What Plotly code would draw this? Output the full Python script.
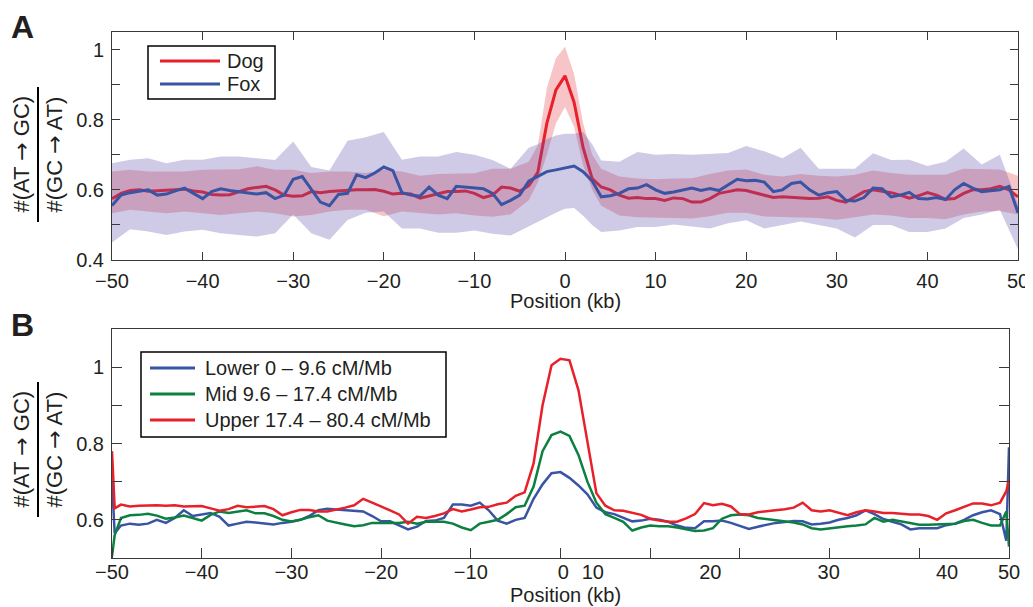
import plotly.graph_objects as go

# ---------------- Panel A data ----------------
x_a = list(range(-50, 51))
dog_a = [0.575, 0.59, 0.598, 0.6, 0.596, 0.597, 0.6, 0.6, 0.602, 0.597,
         0.594, 0.587, 0.585, 0.586, 0.595, 0.603, 0.607, 0.61, 0.6, 0.585,
         0.582, 0.583, 0.595, 0.592, 0.595, 0.597, 0.598, 0.6, 0.6, 0.601,
         0.596, 0.588, 0.59, 0.588, 0.576, 0.583, 0.59, 0.595, 0.595, 0.597,
         0.59, 0.578, 0.585, 0.608, 0.605, 0.596, 0.612, 0.65, 0.79, 0.885,
         0.925, 0.85, 0.72, 0.632, 0.608, 0.6, 0.585, 0.576, 0.578, 0.575,
         0.575, 0.57, 0.577, 0.575, 0.565, 0.565, 0.575, 0.59, 0.595, 0.6,
         0.598, 0.592, 0.585, 0.578, 0.58, 0.578, 0.576, 0.575, 0.576, 0.58,
         0.57, 0.565, 0.58, 0.595, 0.6, 0.596, 0.592, 0.585, 0.576, 0.583,
         0.592, 0.585, 0.573, 0.575, 0.59, 0.6, 0.6, 0.603, 0.61, 0.6, 0.58]
fox_a = [0.555, 0.585, 0.592, 0.595, 0.6, 0.585, 0.588, 0.597, 0.605, 0.59,
         0.575, 0.595, 0.603, 0.598, 0.594, 0.59, 0.588, 0.592, 0.575, 0.585,
         0.63, 0.638, 0.6, 0.565, 0.555, 0.587, 0.59, 0.643, 0.635, 0.648,
         0.665, 0.655, 0.592, 0.585, 0.582, 0.608, 0.585, 0.575, 0.61, 0.608,
         0.605, 0.603, 0.59, 0.558, 0.57, 0.585, 0.625, 0.638, 0.652, 0.657,
         0.662, 0.668, 0.652, 0.625, 0.58, 0.583, 0.59, 0.603, 0.605, 0.615,
         0.6, 0.59, 0.594, 0.6, 0.605, 0.598, 0.604, 0.598, 0.613, 0.63,
         0.626, 0.627, 0.622, 0.595, 0.6, 0.618, 0.622, 0.6, 0.585, 0.592,
         0.595, 0.57, 0.568, 0.578, 0.605, 0.603, 0.58, 0.585, 0.593, 0.575,
         0.574, 0.578, 0.572, 0.6, 0.618, 0.605, 0.595, 0.598, 0.6, 0.61, 0.535]

band_x = [-50, -48, -46, -44, -42, -40, -38, -36, -34, -32, -30, -28, -26, -24,
          -22, -20, -18, -16, -14, -12, -10, -8, -6, -4, -3, -2, -1, 0, 1, 2, 3,
          4, 6, 8, 10, 12, 14, 16, 18, 20, 22, 24, 26, 28, 30, 32, 34, 36, 38,
          40, 42, 44, 46, 48, 50]
fox_hi = [0.676, 0.686, 0.69, 0.676, 0.686, 0.686, 0.695, 0.695, 0.69, 0.685,
          0.738, 0.665, 0.655, 0.74, 0.75, 0.765, 0.686, 0.695, 0.695, 0.708,
          0.7, 0.685, 0.66, 0.72, 0.73, 0.745, 0.755, 0.76, 0.76, 0.765, 0.73,
          0.684, 0.68, 0.708, 0.7, 0.702, 0.7, 0.703, 0.705, 0.725, 0.71, 0.69,
          0.72, 0.66, 0.66, 0.66, 0.704, 0.685, 0.686, 0.668, 0.68, 0.718,
          0.672, 0.7, 0.56]
fox_lo = [0.45, 0.488, 0.481, 0.471, 0.481, 0.486, 0.476, 0.471, 0.467, 0.476,
          0.53, 0.476, 0.458, 0.514, 0.535, 0.538, 0.49, 0.49, 0.478, 0.478,
          0.484, 0.475, 0.47, 0.498, 0.51, 0.522, 0.535, 0.546, 0.548, 0.526,
          0.5, 0.48, 0.484, 0.494, 0.494, 0.501, 0.496, 0.49, 0.505, 0.513,
          0.49, 0.5, 0.51, 0.5, 0.49, 0.464, 0.5, 0.5, 0.48, 0.48, 0.49, 0.52,
          0.53, 0.543, 0.43]
dog_hi = [0.652, 0.657, 0.652, 0.652, 0.652, 0.657, 0.657, 0.659, 0.667, 0.657,
          0.657, 0.648, 0.652, 0.652, 0.648, 0.657, 0.652, 0.64, 0.645, 0.645,
          0.647, 0.66, 0.66, 0.68, 0.727, 0.89, 0.975, 1.008, 0.93, 0.79, 0.7,
          0.66, 0.638, 0.632, 0.63, 0.632, 0.633, 0.645, 0.655, 0.658, 0.643,
          0.638, 0.645, 0.64, 0.638, 0.643, 0.655, 0.648, 0.643, 0.643, 0.643,
          0.66, 0.66, 0.658, 0.64]
dog_lo = [0.533, 0.543, 0.538, 0.533, 0.538, 0.533, 0.528, 0.533, 0.538, 0.533,
          0.524, 0.528, 0.538, 0.543, 0.543, 0.525, 0.538, 0.535, 0.53, 0.533,
          0.527, 0.523, 0.53, 0.57, 0.622, 0.7, 0.79, 0.836, 0.78, 0.67, 0.6,
          0.555, 0.527, 0.522, 0.522, 0.52, 0.518, 0.525, 0.535, 0.535, 0.524,
          0.524, 0.522, 0.52, 0.515, 0.522, 0.53, 0.527, 0.52, 0.52, 0.516,
          0.53, 0.538, 0.54, 0.53]

# ---------------- Panel B data ----------------
x_b = [-50, -49.7] + list(range(-49, 50)) + [49.7, 50]
lower_b = [0.70, 0.565, 0.585, 0.59, 0.587, 0.59, 0.6, 0.592, 0.605, 0.625, 0.61,
           0.615, 0.618, 0.608, 0.585, 0.59, 0.595, 0.593, 0.59, 0.588, 0.592,
           0.595, 0.6, 0.61, 0.625, 0.629, 0.627, 0.625, 0.624, 0.622, 0.61,
           0.596, 0.596, 0.585, 0.575, 0.582, 0.597, 0.598, 0.605, 0.64, 0.64,
           0.637, 0.645, 0.625, 0.598, 0.59, 0.6, 0.605, 0.655, 0.693, 0.722,
           0.725, 0.71, 0.69, 0.667, 0.632, 0.62, 0.615, 0.605, 0.596, 0.598,
           0.603, 0.6, 0.595, 0.585, 0.579, 0.578, 0.596, 0.596, 0.598, 0.592,
           0.585, 0.576, 0.582, 0.588, 0.592, 0.594, 0.597, 0.596, 0.588, 0.59,
           0.593, 0.6, 0.605, 0.612, 0.625, 0.615, 0.602, 0.595, 0.588, 0.575,
           0.578, 0.578, 0.578, 0.586, 0.59, 0.6, 0.612, 0.62, 0.625, 0.615,
           0.545, 0.79]
mid_b = [0.505, 0.56, 0.605, 0.612, 0.613, 0.616, 0.611, 0.603, 0.606, 0.611,
         0.605, 0.598, 0.613, 0.622, 0.618, 0.622, 0.625, 0.617, 0.617, 0.61,
         0.6, 0.596, 0.6, 0.607, 0.612, 0.598, 0.592, 0.588, 0.583, 0.586,
         0.592, 0.592, 0.592, 0.592, 0.595, 0.59, 0.595, 0.595, 0.595, 0.59,
         0.58, 0.573, 0.59, 0.595, 0.6, 0.615, 0.633, 0.637, 0.687, 0.78,
         0.822, 0.831, 0.82, 0.77, 0.7, 0.645, 0.615, 0.605, 0.595, 0.572,
         0.58, 0.585, 0.583, 0.583, 0.58, 0.575, 0.571, 0.572, 0.578, 0.603,
         0.612, 0.614, 0.612, 0.605, 0.602, 0.598, 0.596, 0.593, 0.588, 0.578,
         0.575, 0.578, 0.58, 0.583, 0.585, 0.588, 0.605, 0.595, 0.6, 0.596,
         0.592, 0.587, 0.587, 0.588, 0.59, 0.59, 0.597, 0.6, 0.592, 0.585,
         0.585, 0.622, 0.53]
upper_b = [0.78, 0.63, 0.64, 0.635, 0.637, 0.638, 0.638, 0.637, 0.638, 0.635,
           0.635, 0.636, 0.63, 0.624, 0.628, 0.637, 0.633, 0.634, 0.636, 0.628,
           0.612, 0.62, 0.626, 0.626, 0.622, 0.622, 0.626, 0.632, 0.638, 0.655,
           0.645, 0.636, 0.625, 0.614, 0.59, 0.608, 0.605, 0.61, 0.617, 0.628,
           0.622, 0.627, 0.633, 0.634, 0.641, 0.645, 0.663, 0.672, 0.748, 0.9,
           1.005, 1.022, 1.018, 0.94, 0.8, 0.67, 0.637, 0.625, 0.624, 0.618,
           0.613, 0.603, 0.598, 0.595, 0.595, 0.604, 0.615, 0.644, 0.638, 0.642,
           0.635, 0.615, 0.614, 0.62, 0.623, 0.624, 0.628, 0.632, 0.645, 0.625,
           0.622, 0.625, 0.618, 0.612, 0.62, 0.625, 0.622, 0.618, 0.618, 0.616,
           0.614, 0.614, 0.61, 0.6, 0.617, 0.625, 0.635, 0.643, 0.643, 0.638,
           0.645, 0.675, 0.705]

names_a = ["Dog", "Fox"]
names_b = ["Lower 0 – 9.6 cM/Mb", "Mid 9.6 – 17.4 cM/Mb", "Upper 17.4 – 80.4 cM/Mb"]

x_ticks = list(range(-50, 51, 10))
x_tick_text = ["−50", "−40", "−30", "−20", "−10", "0", "10", "20", "30", "40", "50"]
b_label_pos = [-50, -40, -30, -20, -10, 0.3, 3.6, 16.7, 29.9, 43.1, 50]
ya_ticks = [0.4, 0.5, 0.6, 0.7, 0.8, 0.9, 1.0]
ya_text = ["0.4", "", "0.6", "", "0.8", "", "1"]
yb_ticks = [0.6, 0.7, 0.8, 0.9, 1.0]
yb_text = ["0.6", "", "0.8", "", "1"]
ARROW = "<span style='font-family:DejaVu Sans'>→</span>"
y_num = "#(AT " + ARROW + " GC)"
y_den = "#(GC " + ARROW + " AT)"
x_title = "Position (kb)"

# ---------------- styling ----------------
OFF = 8                      # page body margin offset of the rendered figure
W, H = 1033 - OFF, 607 - OFF
FONT = "Liberation Sans, Arial, Helvetica, sans-serif"
TXT = "#231f20"
AX = "#3a3a3a"
RED = "#e8202a"
BLUE = "#3a54a4"
GREEN = "#0b8040"
DOG_BAND = "rgba(230,60,70,0.30)"
FOX_BAND = "rgba(95,78,172,0.30)"


def px(x):
    return (x - OFF) / W


def py(y):
    return 1 - (y - OFF) / H


fig = go.Figure()

# Panel A bands and lines (dog band, dog line, fox band, fox line)
fig.add_trace(go.Scatter(x=band_x + band_x[::-1], y=dog_hi + dog_lo[::-1],
                         fill="toself", fillcolor=DOG_BAND, line=dict(width=0),
                         hoverinfo="skip", showlegend=False, xaxis="x", yaxis="y"))
fig.add_trace(go.Scatter(x=x_a, y=dog_a, mode="lines", name=names_a[0],
                         line=dict(color=RED, width=3), showlegend=False,
                         xaxis="x", yaxis="y"))
fig.add_trace(go.Scatter(x=band_x + band_x[::-1], y=fox_hi + fox_lo[::-1],
                         fill="toself", fillcolor=FOX_BAND, line=dict(width=0),
                         hoverinfo="skip", showlegend=False, xaxis="x", yaxis="y"))
fig.add_trace(go.Scatter(x=x_a, y=fox_a, mode="lines", name=names_a[1],
                         line=dict(color=BLUE, width=3), showlegend=False,
                         xaxis="x", yaxis="y"))

# Panel B lines
for name, ys, col in [(names_b[0], lower_b, BLUE), (names_b[1], mid_b, GREEN),
                      (names_b[2], upper_b, RED)]:
    fig.add_trace(go.Scatter(x=x_b, y=ys, mode="lines", name=name,
                             line=dict(color=col, width=2.5), showlegend=False,
                             xaxis="x2", yaxis="y2"))

tickfont = dict(family=FONT, size=20, color=TXT)
common = dict(showline=True, linecolor=AX, linewidth=1, mirror="ticks",
              ticks="inside", tickcolor=AX, showgrid=False, zeroline=False,
              tickfont=tickfont, automargin=False)

fig.update_layout(
    template="none",
    width=W, height=H, margin=dict(l=0, r=0, t=0, b=0, pad=0),
    paper_bgcolor="white", plot_bgcolor="white", showlegend=False,
    xaxis=dict(domain=[px(112), px(1018)], range=[-50, 50], anchor="y",
               tickmode="array", tickvals=x_ticks, ticktext=x_tick_text,
               ticklen=8, ticklabelstandoff=3, **common),
    yaxis=dict(domain=[py(260), py(32)], range=[0.4, 1.05], anchor="x",
               tickmode="array", tickvals=ya_ticks, ticktext=ya_text,
               ticklen=8, ticklabelstandoff=3, **common),
    xaxis2=dict(domain=[px(112), px(1009)], range=[-50, 50], anchor="y2",
                tickmode="array", tickvals=b_label_pos, ticktext=x_tick_text,
                showline=True, linecolor=AX, linewidth=1, mirror=True,
                ticks="", showgrid=False, zeroline=False, tickfont=tickfont,
                ticklabelstandoff=-4, automargin=False,
                minor=dict(tickmode="array", tickvals=x_ticks, ticks="inside",
                           ticklen=10, tickcolor=AX, showgrid=False)),
    yaxis2=dict(domain=[py(558), py(329)], range=[0.5, 1.1], anchor="x2",
                tickmode="array", tickvals=yb_ticks, ticktext=yb_text,
                ticklen=10, ticklabelstandoff=3, **common),
)


def note(x, y, text, size=20, xanchor="center", angle=0):
    return dict(x=px(x), y=py(y), xref="paper", yref="paper", text=text,
                xanchor=xanchor, yanchor="middle", textangle=angle,
                showarrow=False, font=dict(family=FONT, size=size, color=TXT))


ann = []
shapes = []
# panel letters
ann.append(note(22, 27, "<b>A</b>", size=32))
ann.append(note(22, 325, "<b>B</b>", size=32))
# x titles
ann.append(note(565, 301, x_title))
ann.append(note(565, 595, x_title))
# y titles (fractions)
for (yc, y0, y1) in [(154.5, 87, 222), (449.5, 382, 517)]:
    ann.append(note(21, yc, y_num, size=22, angle=-90))
    ann.append(note(54, yc, y_den, size=22, angle=-90))
    shapes.append(dict(type="line", xref="paper", yref="paper", x0=px(38), x1=px(38),
                       y0=py(y0), y1=py(y1), line=dict(color="black", width=2)))

# legend A (drawn box)
shapes.append(dict(type="rect", xref="paper", yref="paper", x0=px(148), x1=px(275),
                   y0=py(99), y1=py(46), line=dict(color="black", width=1.5),
                   fillcolor="white"))
for name, col, yy in [(names_a[0], RED, 61), (names_a[1], BLUE, 84)]:
    shapes.append(dict(type="line", xref="paper", yref="paper", x0=px(160), x1=px(220),
                       y0=py(yy), y1=py(yy), line=dict(color=col, width=3)))
    ann.append(note(225, yy, name, xanchor="left"))

# legend B (drawn box)
shapes.append(dict(type="rect", xref="paper", yref="paper", x0=px(141), x1=px(446),
                   y0=py(437), y1=py(352), line=dict(color="black", width=1.5),
                   fillcolor="white"))
for name, col, yy in [(names_b[0], BLUE, 368), (names_b[1], GREEN, 394),
                      (names_b[2], RED, 420)]:
    shapes.append(dict(type="line", xref="paper", yref="paper", x0=px(150), x1=px(195),
                       y0=py(yy), y1=py(yy), line=dict(color=col, width=3)))
    ann.append(note(203, yy, name, xanchor="left"))

fig.update_layout(annotations=ann, shapes=shapes)
fig.write_html("out.html")
